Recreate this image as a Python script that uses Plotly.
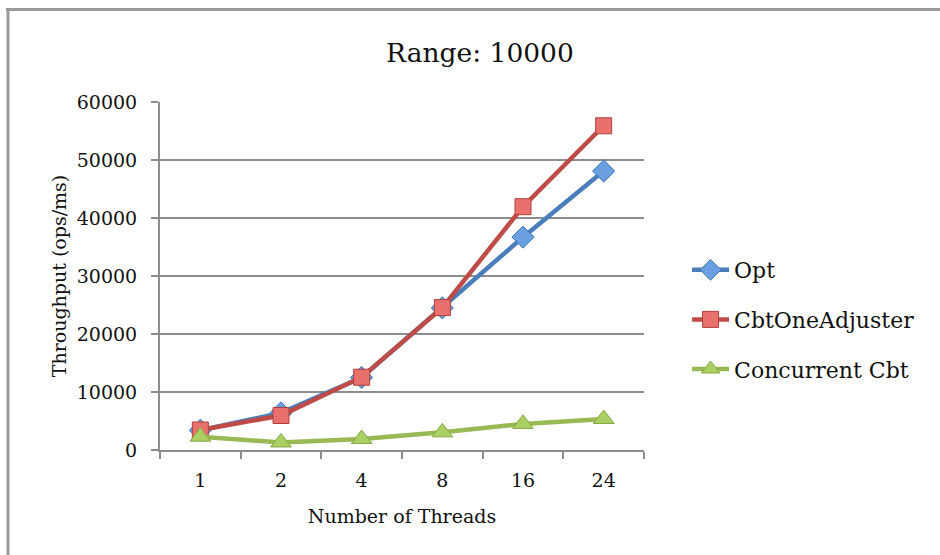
import plotly.graph_objects as go

# Thread counts on the x axis (category axis)
threads = ["1", "2", "4", "8", "16", "24"]

# Throughput in ops/ms for each implementation
opt = [3400, 6400, 12500, 24500, 36700, 48100]
cbt_one_adjuster = [3450, 5950, 12550, 24550, 41950, 55900]
concurrent_cbt = [2300, 1300, 1900, 3050, 4500, 5350]

FONT = "DejaVu Serif"

series = [
    dict(name="Opt", y=opt, line="#4A7EBB", fill="#6A9FE0", edge="#3F74B5",
         symbol="diamond", size=17),
    dict(name="CbtOneAdjuster", y=cbt_one_adjuster, line="#BE4B48", fill="#E8706D",
         edge="#B23F3C", symbol="square", size=16),
    dict(name="Concurrent Cbt", y=concurrent_cbt, line="#98B954", fill="#AACF62",
         edge="#88A845", symbol="triangle-up", size=18),
]

fig = go.Figure()
for i, s in enumerate(series):
    fig.add_trace(go.Scatter(
        x=threads, y=s["y"], name=s["name"], mode="lines+markers",
        legendgroup=f"g{i}",
        line=dict(color=s["line"], width=4.5),
        marker=dict(symbol=s["symbol"], size=s["size"], color=s["fill"],
                    line=dict(color=s["edge"], width=1)),
    ))

grid = "#8C8C8C"
fig.update_layout(
    width=940, height=555,
    margin=dict(l=160, r=296, t=102, b=105),
    paper_bgcolor="white", plot_bgcolor="white",
    font=dict(family=FONT, color="#111111", size=19),
    title=dict(text="Range: 10000", x=0.5106, xanchor="center", y=0.905, yanchor="middle",
               font=dict(family=FONT, size=26.5, color="#111111")),
    showlegend=True,
    legend=dict(x=1.089, xanchor="left", y=0.375, yanchor="middle",
                font=dict(family=FONT, size=22, color="#111111"),
                traceorder="grouped", tracegroupgap=18,
                bgcolor="rgba(0,0,0,0)", itemwidth=37),
    xaxis=dict(
        type="category", range=[-0.5, 5.5],
        showgrid=False, showline=True, linecolor=grid, linewidth=2,
        ticks="outside", tickson="boundaries", ticklen=7, tickcolor=grid, tickwidth=2,
        ticklabelstandoff=12,
        tickfont=dict(family=FONT, size=19, color="#111111"),
        title=dict(text="Number of Threads", standoff=20,
                   font=dict(family=FONT, size=19, color="#111111")),
        zeroline=False,
    ),
    yaxis=dict(
        range=[0, 60000], tickvals=[0, 10000, 20000, 30000, 40000, 50000, 60000],
        ticktext=["0", "10000", "20000", "30000", "40000", "50000", "60000"],
        showgrid=True, gridcolor=grid, gridwidth=1.6,
        showline=True, linecolor=grid, linewidth=2,
        ticks="outside", ticklen=7, tickcolor=grid, tickwidth=2,
        ticklabelstandoff=10,
        tickfont=dict(family=FONT, size=19, color="#111111"),
        title=dict(text="Throughput (ops/ms)", standoff=5,
                   font=dict(family=FONT, size=19, color="#111111")),
        zeroline=False,
    ),
)

# Outer chart frame (top and left edges)
pw, ph = 940 - 160 - 296, 555 - 102 - 105
def px(xp):
    return (xp - 160) / pw
def py(yp):
    return (555 - 105 - yp) / ph

fig.add_shape(type="line", xref="paper", yref="paper",
              x0=px(6), x1=px(945), y0=py(9.5), y1=py(9.5),
              line=dict(color="#9A9A9A", width=3))
fig.add_shape(type="line", xref="paper", yref="paper",
              x0=px(8), x1=px(8), y0=py(9.5), y1=py(560),
              line=dict(color="#9A9A9A", width=3))

fig.write_html("out.html")
